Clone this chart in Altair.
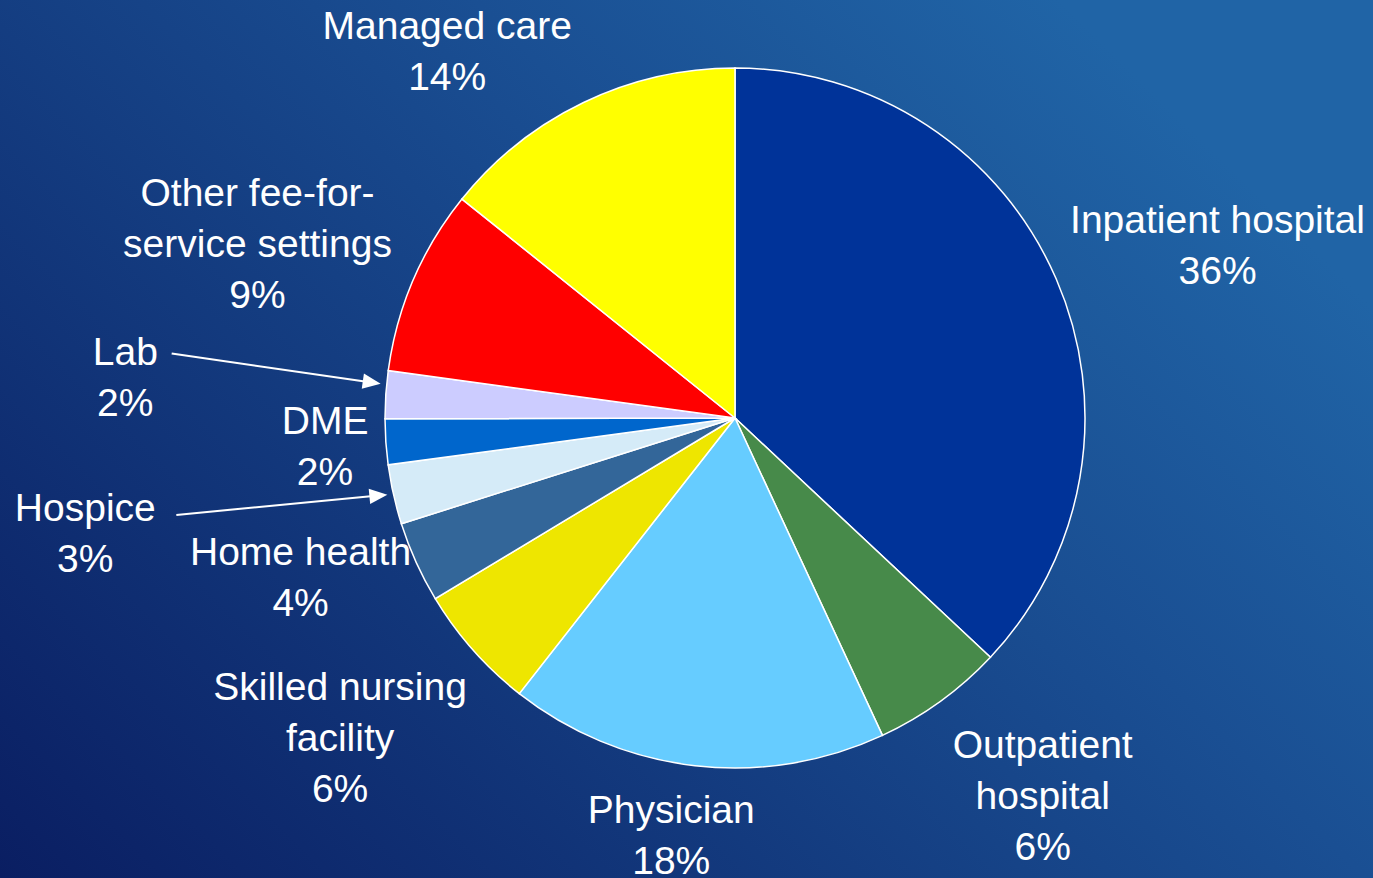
import altair as alt
import pandas as pd

# ---- data ----
categories = ["Inpatient hospital", "Outpatient hospital", "Physician",
              "Skilled nursing facility", "Home health", "Hospice", "DME",
              "Lab", "Other fee-for-service settings", "Managed care"]
values = [37.0, 6.1, 17.5, 5.8, 3.75, 2.75, 2.1, 2.2, 8.6, 14.25]
percent_labels = ["36%", "6%", "18%", "6%", "4%", "3%", "2%", "2%", "9%", "14%"]
name_lines = ["Inpatient hospital", "Outpatient\nhospital", "Physician",
              "Skilled nursing\nfacility", "Home health", "Hospice", "DME",
              "Lab", "Other fee-for-\nservice settings", "Managed care"]
colors = ["#003399", "#478a4a", "#66ccff", "#eee600", "#336699",
          "#d5ebf8", "#0066cc", "#ccccff", "#ff0000", "#ffff00"]

# ---- layout (label placement around the pie) ----
CX, CY, R = 735, 418, 350
W, H = 1373, 878
LINE_H = 51
label_radius = [512, 488, 423, 509, 463, 660, 411, 611, 508, 465]
label_nudge = [3.9, -3.2, 2.1, 2.4, 4.1, 2.5, -0.2, -0.1, -3.3, -12.6]
arrow_flag = [0, 0, 0, 0, 0, 1, 0, 1, 0, 0]
arrow_tail_nudge = [0, 0, 0, 0, 0, 2.8, 0, 2.7, 0, 0]
arrow_tip_nudge = [0, 0, 0, 0, 0, 0.2, 0, 1.7, 0, 0]
ARROW_TAIL_R, ARROW_TIP_R, HEAD_LEN = 567, 356, 18

label_text = [n + "\n" + p for n, p in zip(name_lines, percent_labels)]

df = pd.DataFrame({
    "category": categories,
    "value": values,
    "label": label_text,
    "nl": [t.count("\n") + 1 for t in label_text],
    "order": list(range(len(categories))),
    "lr": label_radius,
    "nudge": label_nudge,
    "arrow": arrow_flag,
    "tnudge": arrow_tail_nudge,
    "hnudge": arrow_tip_nudge,
})

base = alt.Chart(df)

bg = alt.Chart(pd.DataFrame({"a": [0]})).mark_rect(
    color=alt.Gradient(
        gradient="linear",
        stops=[alt.GradientStop(color="#0a1e62", offset=0),
               alt.GradientStop(color="#1a4f93", offset=0.7),
               alt.GradientStop(color="#2064a6", offset=1)],
        x1=0, y1=1, x2=1, y2=0.35,
    )
).encode(x=alt.value(0), x2=alt.value(W), y=alt.value(0), y2=alt.value(H))

pie = base.mark_arc(radius=R, stroke="white", strokeWidth=1.5).encode(
    theta=alt.Theta("value:Q", stack=True),
    color=alt.Color("category:N", scale=alt.Scale(domain=categories, range=colors), legend=None),
    order=alt.Order("order:Q", sort="ascending"),
    x=alt.value(CX),
    y=alt.value(CY),
)

stacked = base.transform_window(
    cum="sum(value)", sort=[alt.SortField("order")], frame=[None, 0]
).transform_joinaggregate(total="sum(value)")

labels = stacked.transform_calculate(
    mid="2*PI*(datum.cum - datum.value/2)/datum.total + datum.nudge*PI/180"
).transform_calculate(
    lx=f"{CX} + datum.lr*sin(datum.mid)",
    ly=f"{CY} - datum.lr*cos(datum.mid) - (datum.nl - 1)*{LINE_H}/2",
).mark_text(
    font="Liberation Sans", fontSize=39, color="white", lineBreak="\n",
    lineHeight=LINE_H, align="center", baseline="middle",
).encode(
    x=alt.X("lx:Q", scale=None),
    y=alt.Y("ly:Q", scale=None),
    text="label:N",
)

arrows = stacked.transform_filter("datum.arrow == 1").transform_calculate(
    ta="2*PI*(datum.cum - datum.value/2)/datum.total + datum.tnudge*PI/180",
    ha="2*PI*(datum.cum - datum.value/2)/datum.total + datum.hnudge*PI/180",
).transform_calculate(
    tx=f"{CX} + {ARROW_TAIL_R}*sin(datum.ta)",
    ty=f"{CY} - {ARROW_TAIL_R}*cos(datum.ta)",
    hx=f"{CX} + {ARROW_TIP_R}*sin(datum.ha)",
    hy=f"{CY} - {ARROW_TIP_R}*cos(datum.ha)",
).transform_calculate(
    dirn="atan2(datum.hx - datum.tx, datum.ty - datum.hy)"
).transform_calculate(
    deg="(datum.dirn*180/PI + 360) % 360",
    cxh=f"datum.hx - {HEAD_LEN/2}*sin(datum.dirn)",
    cyh=f"datum.hy + {HEAD_LEN/2}*cos(datum.dirn)",
)

arrow_lines = arrows.mark_rule(color="white", strokeWidth=2).encode(
    x=alt.X("tx:Q", scale=None), y=alt.Y("ty:Q", scale=None),
    x2="cxh:Q", y2="cyh:Q",
)
arrow_heads = arrows.mark_point(
    shape="M0,-1L0.85,1L-0.85,1Z", filled=True, size=HEAD_LEN**2,
    color="white", opacity=1, strokeWidth=0,
).encode(
    x=alt.X("cxh:Q", scale=None), y=alt.Y("cyh:Q", scale=None),
    angle=alt.Angle("deg:Q", scale=None),
)

chart = alt.layer(bg, pie, labels, arrow_lines, arrow_heads).properties(
    width=W, height=H, padding=0, background="#123a80"
).configure_view(stroke=None)

chart.save("out.html", embed_options={"renderer": "svg", "actions": False})
